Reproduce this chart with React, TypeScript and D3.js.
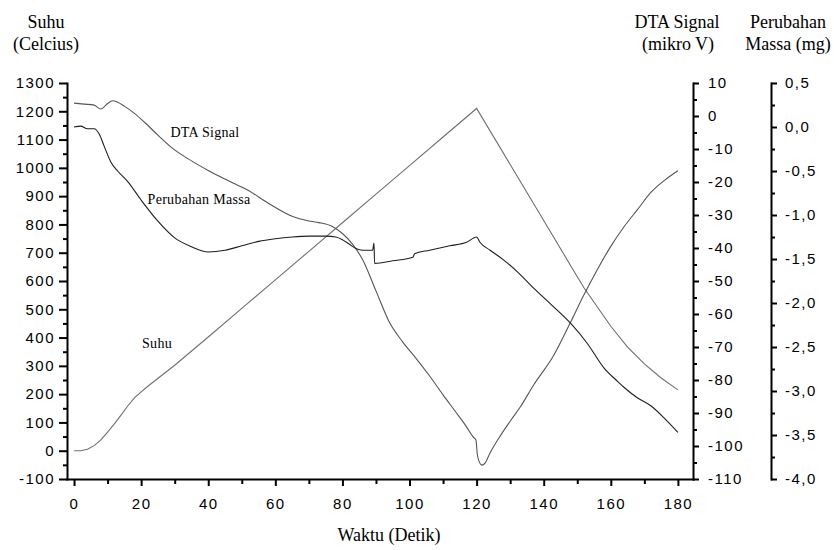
import { useRef, useEffect } from 'react';
import * as d3 from 'd3';

// Suhu (Celcius) vs waktu (detik)
const suhuTime = [0, 2, 4, 6, 8, 10, 12, 14, 16, 18, 20, 22, 30, 40, 50, 60, 70, 80, 90, 100, 110, 120, 130, 140, 150, 152, 155, 160, 165, 170, 175, 180];
const suhuValues = [0, 0, 5, 18, 38, 66, 95, 126, 158, 187, 208, 228, 302, 402, 503, 604, 705, 806, 907, 1008, 1109, 1210, 1012, 814, 615, 576, 525, 440, 366, 307, 257, 215];

// DTA Signal (mikro V)
const dtaTime = [0, 3, 6, 8, 10, 11.5, 13, 15, 18, 21, 25, 29, 35, 40, 46, 52, 58, 65, 70, 73, 77, 80, 83, 86, 90, 94, 98, 102, 106, 110, 114, 117, 119, 119.8, 120.2, 120.8, 121.6, 122.5, 124, 127, 130, 133, 137, 143, 148, 152, 156, 160, 164, 168, 172, 176, 180];
const dtaValues = [3.9, 3.6, 3.3, 2.1, 3.8, 4.6, 4.2, 3.0, 0.8, -1.9, -5.8, -9.5, -13.6, -16.5, -19.6, -22.6, -26.5, -30.4, -31.8, -32.3, -33.5, -35.6, -38.8, -43.5, -53, -62.5, -68.5, -73.5, -78.8, -84.5, -90, -94.2, -97.3, -98.2, -102.5, -104.8, -105.8, -105.2, -102.1, -97, -92.5, -88.2, -81.5, -72.5, -62.5, -54.2, -46.5, -39.5, -33.5, -28.3, -23.1, -19.5, -16.6];

// Perubahan Massa (mg)
const massaTime = [0, 2, 4, 6, 7.5, 9, 11, 13, 16, 20, 25, 30, 35, 40, 45, 50, 55, 60, 65, 70, 75, 78, 80, 82, 84, 86, 89, 89.4, 89.6, 95, 101, 101.5, 106, 112, 117, 120, 121, 124, 128, 132, 137, 142, 148, 153, 158, 162, 164, 168, 172, 176, 180];
const massaValues = [0, 0.01, -0.02, -0.02, -0.08, -0.22, -0.4, -0.5, -0.62, -0.83, -1.07, -1.26, -1.36, -1.42, -1.4, -1.35, -1.3, -1.27, -1.25, -1.24, -1.24, -1.25, -1.28, -1.33, -1.38, -1.4, -1.4, -1.32, -1.55, -1.52, -1.48, -1.44, -1.4, -1.35, -1.31, -1.25, -1.31, -1.4, -1.51, -1.64, -1.83, -2.01, -2.23, -2.46, -2.74, -2.89, -2.96, -3.08, -3.17, -3.31, -3.47];

const suhuTicks = d3.range(-100, 1301, 100);
const waktuTicks = d3.range(0, 181, 20);
const dtaTicks = d3.range(-110, 11, 10);
const massaTicks = d3.range(-4, 0.51, 0.5);

const App = () => {
  const svgRef = useRef<SVGSVGElement>(null);

  useEffect(() => {
    if (!svgRef.current) return;
    const width = 834;
    const height = 550;
    const m = { left: 67, right: 693, top: 83, bottom: 479 };
    const massaX = 771;

    const svg = d3.select(svgRef.current).attr('width', width).attr('height', height);
    svg.selectAll('*').remove();

    const x = d3.scaleLinear().domain([-2.1, 184.5]).range([m.left, m.right]);
    const yT = d3.scaleLinear().domain([-100, 1300]).range([m.bottom, m.top]);
    const yD = d3.scaleLinear().domain([-110, 10]).range([m.bottom, m.top]);
    const yM = d3.scaleLinear().domain([-4, 0.5]).range([m.bottom, m.top]);

    const numFont = "'Liberation Sans', Arial, sans-serif";
    const serif = "'Liberation Serif'";

    const styleAxis = (g: any) => {
      g.attr('font-size', 15).style('font-family', numFont);
      g.select('.domain').attr('stroke-width', 2).attr('stroke-linecap', 'square');
      g.selectAll('.tick line').attr('stroke-width', 2);
      g.selectAll('text').attr('fill', '#000').attr('letter-spacing', '1.5px');
    };
    const minorAxis = (g: any) => {
      g.select('.domain').remove();
      g.selectAll('text').remove();
      g.selectAll('.tick line').attr('stroke-width', 2);
    };

    // left axis - Suhu
    svg.append('g')
      .attr('transform', `translate(${m.left},0)`)
      .call(d3.axisLeft(yT).tickValues(suhuTicks).tickSize(8).tickSizeOuter(0).tickPadding(4).tickFormat(d => String(d)))
      .call(styleAxis);
    svg.append('g')
      .attr('transform', `translate(${m.left},0)`)
      .call(d3.axisLeft(yT).tickValues(d3.range(-50, 1300, 100)).tickSize(4))
      .call(minorAxis);

    // bottom axis - Waktu
    svg.append('g')
      .attr('transform', `translate(0,${m.bottom})`)
      .call(d3.axisBottom(x).tickValues(waktuTicks).tickSize(7).tickSizeOuter(0).tickPadding(12).tickFormat(d => String(d)))
      .call(styleAxis);
    svg.append('g')
      .attr('transform', `translate(0,${m.bottom})`)
      .call(d3.axisBottom(x).tickValues(d3.range(10, 180, 20)).tickSize(5))
      .call(minorAxis);

    // right axis - DTA
    svg.append('g')
      .attr('transform', `translate(${m.right},0)`)
      .call(d3.axisRight(yD).tickValues(dtaTicks).tickSize(6).tickSizeOuter(0).tickPadding(9).tickFormat(d => String(d)))
      .call(styleAxis);
    svg.append('g')
      .attr('transform', `translate(${m.right},0)`)
      .call(d3.axisRight(yD).tickValues(d3.range(-105, 10, 10)).tickSize(4))
      .call(minorAxis);

    // far right axis - Massa
    svg.append('g')
      .attr('transform', `translate(${massaX},0)`)
      .call(d3.axisRight(yM).tickValues(massaTicks).tickSize(6).tickSizeOuter(0).tickPadding(8)
        .tickFormat(d => (+d).toFixed(1).replace('.', ',')))
      .call(styleAxis);
    svg.append('g')
      .attr('transform', `translate(${massaX},0)`)
      .call(d3.axisRight(yM).tickValues(d3.range(-3.75, 0.5, 0.5)).tickSize(4))
      .call(minorAxis);

    // curves
    const suhuLine = d3.line<number>()
      .x((_, i) => x(suhuTime[i]))
      .y(d => yT(d))
      .curve(d3.curveLinear);
    const dtaLine = d3.line<number>()
      .x((_, i) => x(dtaTime[i]))
      .y(d => yD(d))
      .curve(d3.curveMonotoneX);
    const massaLine = d3.line<number>()
      .x((_, i) => x(massaTime[i]))
      .y(d => yM(d))
      .curve(d3.curveMonotoneX);

    svg.append('path').datum(suhuValues)
      .attr('d', suhuLine).attr('fill', 'none').attr('stroke', '#6f6f6f').attr('stroke-width', 1.1);
    svg.append('path').datum(dtaValues)
      .attr('d', dtaLine).attr('fill', 'none').attr('stroke', '#555').attr('stroke-width', 1.1);
    svg.append('path').datum(massaValues)
      .attr('d', massaLine).attr('fill', 'none').attr('stroke', '#1e1e1e').attr('stroke-width', 1.1);

    // labels inside plot
    const inner = [
      { text: 'DTA Signal', x: 205, y: 137 },
      { text: 'Perubahan Massa', x: 199, y: 204 },
      { text: 'Suhu', x: 157, y: 348 },
    ];
    svg.append('g').selectAll('text').data(inner).join('text')
      .attr('x', d => d.x).attr('y', d => d.y)
      .attr('text-anchor', 'middle')
      .attr('font-size', 14).attr('letter-spacing', '0.3px')
      .style('font-family', serif)
      .text(d => d.text);

    // axis titles
    const titles = [
      { text: 'Suhu', x: 46, y: 28 },
      { text: '(Celcius)', x: 46, y: 50 },
      { text: 'DTA Signal', x: 677, y: 28 },
      { text: '(mikro V)', x: 678, y: 50 },
      { text: 'Perubahan', x: 788, y: 28 },
      { text: 'Massa (mg)', x: 788, y: 50 },
      { text: 'Waktu (Detik)', x: 389, y: 541 },
    ];
    svg.append('g').selectAll('text').data(titles).join('text')
      .attr('x', d => d.x).attr('y', d => d.y)
      .attr('text-anchor', 'middle')
      .attr('font-size', 18)
      .style('font-family', serif)
      .text(d => d.text);
  }, []);

  return (
    <svg ref={svgRef} style={{ position: 'absolute', left: 0, top: 0, background: '#fff' }} />
  );
};

export default App;
